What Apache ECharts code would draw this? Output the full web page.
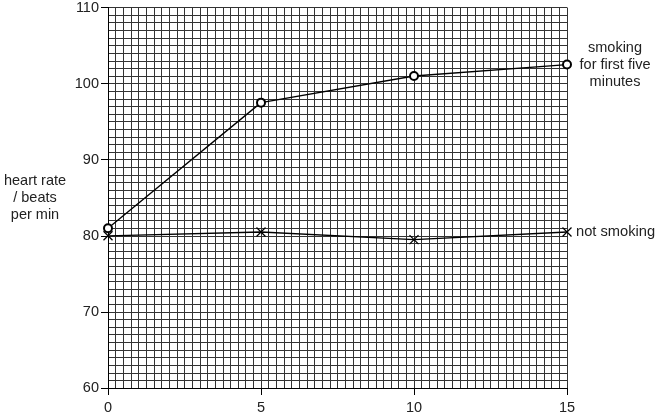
<!DOCTYPE html>
<html>
<head>
<meta charset="utf-8">
<script src="https://cdn.jsdelivr.net/npm/echarts@6/dist/echarts.min.js"></script>
<style>
  html, body { margin: 0; padding: 0; background: #fff; }
  #chart { width: 660px; height: 417px; }
</style>
</head>
<body>
<div id="chart"></div>
<script>
  // time / min
  const minutes = [0, 5, 10, 15]
  const smoking = [81, 97.5, 101, 102.5]
  const notSmoking = [80, 80.5, 79.5, 80.5]

  const font = 'Liberation Sans, Arial, sans-serif'
  const cross = 'path://M0,0L10,10M10,0L0,10'

  let chart = echarts.init(document.getElementById('chart'))
  let option = {
    animation: false,
    textStyle: {fontFamily: font},
    grid: {left: 108, right: 93, top: 7, bottom: 29},
    xAxis: {
      type: 'value',
      min: 0,
      max: 15,
      interval: 5,
      axisLine: {onZero: false, lineStyle: {color: '#000', width: 1}},
      axisTick: {show: true, length: 7, lineStyle: {color: '#000'}},
      axisLabel: {color: '#222', fontSize: 14.5, margin: 12},
      splitLine: {show: true, lineStyle: {color: '#333', width: 1}},
      minorTick: {show: false, splitNumber: 20},
      minorSplitLine: {show: true, lineStyle: {color: '#333', width: 1}}
    },
    yAxis: {
      type: 'value',
      min: 60,
      max: 110,
      interval: 10,
      name: 'heart rate\n/ beats\nper min',
      nameLocation: 'middle',
      nameRotate: 0,
      nameGap: 73,
      nameTextStyle: {color: '#222', fontSize: 14.5, lineHeight: 17, align: 'center'},
      axisLine: {show: true, lineStyle: {color: '#000', width: 1}},
      axisTick: {show: true, length: 7, lineStyle: {color: '#000'}},
      axisLabel: {color: '#222', fontSize: 14.5, margin: 9},
      splitLine: {show: true, lineStyle: {color: '#333', width: 1}},
      minorTick: {show: false, splitNumber: 10},
      minorSplitLine: {show: true, lineStyle: {color: '#333', width: 1}}
    },
    series: [
      {
        type: 'line',
        data: minutes.map((m, i) => [m, smoking[i]]),
        symbol: 'emptyCircle',
        symbolSize: 8,
        lineStyle: {color: '#000', width: 1.3},
        itemStyle: {color: '#000', borderColor: '#000', borderWidth: 1.1},
        endLabel: {
          show: true,
          formatter: 'smoking\nfor first five\nminutes',
          align: 'center',
          offset: [40, 0],
          color: '#222',
          fontSize: 14.5,
          lineHeight: 17,
          fontFamily: font
        }
      },
      {
        type: 'line',
        data: minutes.map((m, i) => [m, notSmoking[i]]),
        symbol: cross,
        symbolSize: 9,
        lineStyle: {color: '#000', width: 1.3},
        itemStyle: {color: 'none', borderColor: '#000', borderWidth: 1.3},
        endLabel: {
          show: true,
          formatter: 'not smoking',
          distance: 9,
          color: '#222',
          fontSize: 14.7,
          fontFamily: font
        }
      }
    ]
  }
  chart.setOption(option)
</script>
</body>
</html>
